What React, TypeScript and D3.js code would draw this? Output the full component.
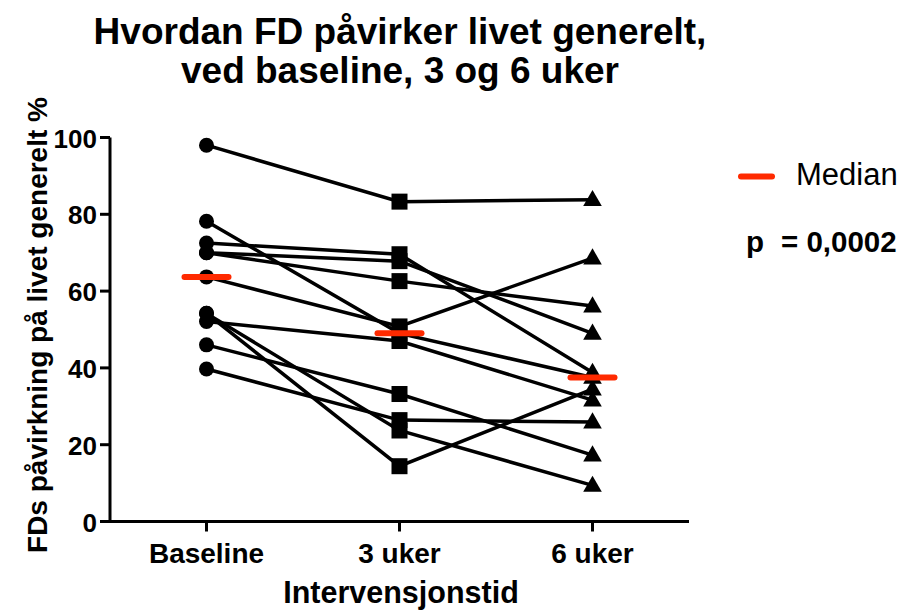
import React from "react";
import * as d3 from "d3";

// Paired observations per subject (FD impact on life in general, %)
const timepoints = ["Baseline", "3 uker", "6 uker"];
const baseline = [98, 78.2, 72.5, 70, 70, 63.7, 54.2, 52.1, 54.2, 46, 39.7];
const week3 = [83.3, 49, 69.6, 67.8, 62.6, 50.8, 14.4, 47, 23.7, 33.2, 26.4];
const week6 = [83.8, 37.5, 38.8, 49, 56.1, 68.6, 34.5, 31.6, 9.4, 17.3, 25.9];
const yTicks = [0, 20, 40, 60, 80, 100];

const titleLines = ["Hvordan FD påvirker livet generelt,", "ved baseline, 3 og 6 uker"];
const yTitle = "FDs påvirkning på livet generelt %";
const xTitle = "Intervensjonstid";
const legendLabel = "Median";
const pName = "p";
const pValue = "= 0,0002";

const W = 904;
const H = 611;
const RED = "#ff2a00";
const FONT = "'Liberation Sans', Arial, Helvetica, sans-serif";

export default function App() {
  const x = d3.scalePoint<string>().domain(timepoints).range([110, 689]).padding(0.5);
  const y = d3.scaleLinear().domain([0, 100]).range([521.5, 137.5]);
  const series = [baseline, week3, week6];
  const n = baseline.length;
  const subjects = d3.range(n).map((i) => series.map((s, t) => [x(timepoints[t])!, y(s[i])] as [number, number]));
  const line = d3.line();
  const medians = series.map((s) => d3.median(s)!);
  const tri = d3.symbol().type(d3.symbolTriangle).size(150)();

  return (
    <svg width={W} height={H} style={{ position: "absolute", left: 0, top: 0, background: "#fff" }} fontFamily={FONT}>
      {/* title */}
      {titleLines.map((t, i) => (
        <text key={t} x={400} y={44 + i * 39} textAnchor="middle" fontSize={37} fontWeight="bold">{t}</text>
      ))}

      {/* y axis */}
      <line x1={110} x2={110} y1={y(100)} y2={y(0) + 1.5} stroke="#000" strokeWidth={3} />
      {yTicks.map((v) => (
        <g key={v}>
          <line x1={100} x2={110} y1={y(v)} y2={y(v)} stroke="#000" strokeWidth={3} />
          <text x={97} y={y(v) + 10} textAnchor="end" fontSize={26} fontWeight="bold">{v}</text>
        </g>
      ))}
      <text transform={`translate(47,${325}) rotate(-90)`} textAnchor="middle" fontSize={28} fontWeight="bold">{yTitle}</text>

      {/* x axis */}
      <line x1={108.5} x2={689} y1={y(0)} y2={y(0)} stroke="#000" strokeWidth={3} />
      {timepoints.map((t) => (
        <g key={t}>
          <line x1={x(t)} x2={x(t)} y1={y(0)} y2={y(0) + 10} stroke="#000" strokeWidth={3} />
          <text x={x(t)} y={563} textAnchor="middle" fontSize={28} fontWeight="bold">{t}</text>
        </g>
      ))}
      <text x={401} y={603} textAnchor="middle" fontSize={30.5} fontWeight="bold">{xTitle}</text>

      {/* subject lines */}
      {subjects.map((pts, i) => (
        <path key={i} d={line(pts)!} fill="none" stroke="#000" strokeWidth={3.5} />
      ))}

      {/* markers */}
      {baseline.map((v, i) => (
        <circle key={`b${i}`} cx={x(timepoints[0])} cy={y(v)} r={7.5} fill="#000" />
      ))}
      {week3.map((v, i) => (
        <rect key={`w3${i}`} x={x(timepoints[1])! - 8} y={y(v) - 8} width={16} height={16} fill="#000" />
      ))}
      {week6.map((v, i) => (
        <path key={`w6${i}`} d={tri!} transform={`translate(${x(timepoints[2])},${y(v) + 1})`} fill="#000" />
      ))}

      {/* medians */}
      {medians.map((m, t) => (
        <line key={t} x1={x(timepoints[t])! - 22} x2={x(timepoints[t])! + 22} y1={y(m)} y2={y(m)} stroke={RED} strokeWidth={6} strokeLinecap="round" />
      ))}

      {/* legend */}
      <line x1={741} x2={772} y1={176.5} y2={176.5} stroke={RED} strokeWidth={6} strokeLinecap="round" />
      <text x={796} y={185} fontSize={31}>{legendLabel}</text>
      <text x={746} y={252} fontSize={29.5} fontWeight="bold">{pName}</text>
      <text x={781} y={252} fontSize={29.5} fontWeight="bold">{pValue}</text>
    </svg>
  );
}
